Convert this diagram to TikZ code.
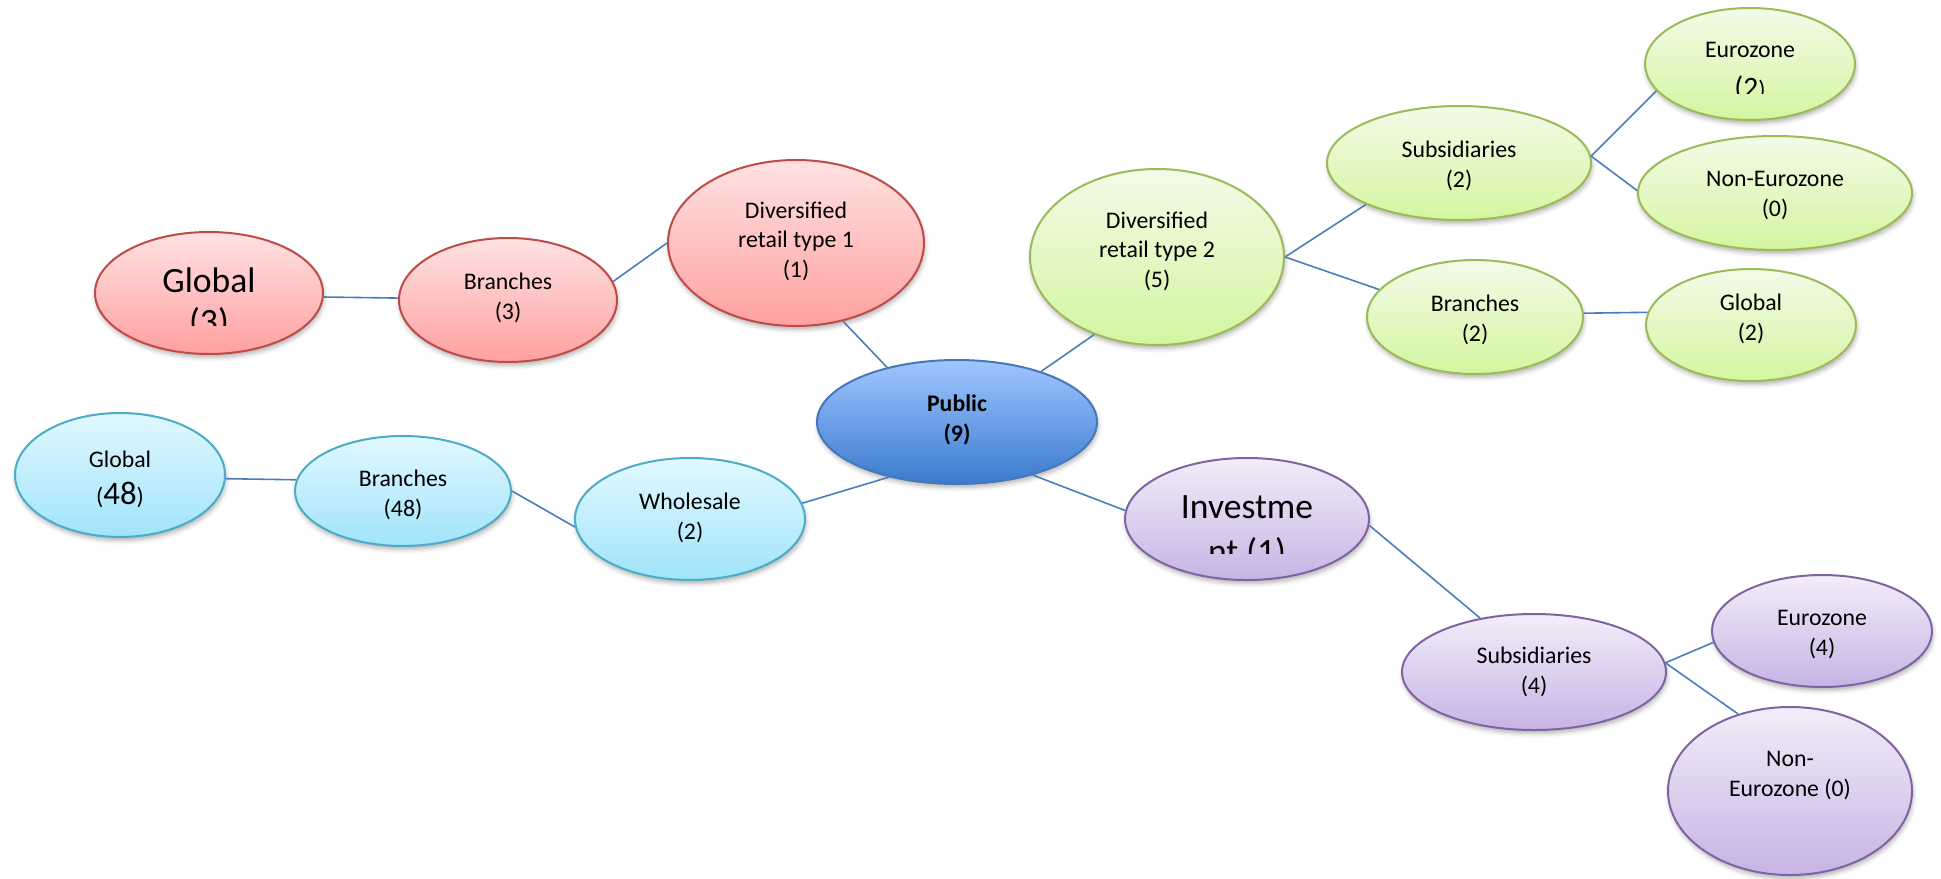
\documentclass[tikz,border=0pt]{standalone}
\usepackage{fontspec}
\setmainfont{Carlito}
\usetikzlibrary{shapes.geometric,shadows.blur}

% fill gradients and outlines of the five branches
\definecolor{redtop}{RGB}{255,226,226}
\definecolor{redbot}{RGB}{255,160,160}
\definecolor{rededge}{RGB}{190,75,72}
\definecolor{bluetop}{RGB}{160,198,255}
\definecolor{bluebot}{RGB}{58,122,205}
\definecolor{blueedge}{RGB}{70,120,185}
\definecolor{greentop}{RGB}{243,251,232}
\definecolor{greenbot}{RGB}{212,245,160}
\definecolor{greenedge}{RGB}{155,187,89}
\definecolor{purptop}{RGB}{243,237,249}
\definecolor{purpbot}{RGB}{198,180,228}
\definecolor{purpedge}{RGB}{128,100,162}
\definecolor{cyantop}{RGB}{226,248,255}
\definecolor{cyanbot}{RGB}{160,228,250}
\definecolor{cyanedge}{RGB}{75,172,198}
\definecolor{linkblue}{RGB}{74,126,187}

\begin{document}
\begin{tikzpicture}[
  x=0.5pt, y=-0.5pt,
  bubble/.style={ellipse, draw, line width=1pt, inner sep=0pt,
    blur shadow={shadow xshift=0.5pt, shadow yshift=-1.8pt,
                 shadow blur radius=2.2pt, shadow opacity=30}},
  sz/.style 2 args={minimum width=#1pt, minimum height=#2pt},
  redball/.style={bubble, draw=rededge, top color=redtop, bottom color=redbot},
  blueball/.style={bubble, draw=blueedge, top color=bluetop, bottom color=bluebot},
  greenball/.style={bubble, draw=greenedge, top color=greentop, bottom color=greenbot},
  purpball/.style={bubble, draw=purpedge, top color=purptop, bottom color=purpbot},
  cyanball/.style={bubble, draw=cyanedge, top color=cyantop, bottom color=cyanbot},
  % labels sit on the baseline of their last line
  txt/.style={anchor=base, align=center, inner sep=0pt,
    font=\fontsize{11.9pt}{14.6pt}\selectfont},
  bigtxt/.style={anchor=base, align=center, inner sep=0pt,
    font=\fontsize{17.8pt}{#1}\selectfont},
  link/.style={draw=linkblue, line width=0.8pt}
]
\useasboundingbox (0,0) rectangle (1941,878);

% ---- bubbles (centre in px, size = radii) ----
\node[redball, sz={114}{61}]    (rglobal)   at (209,293)  {};
\node[redball, sz={109}{62}]    (rbranch)   at (508,300)  {};
\node[redball, sz={128}{83}]    (div1)      at (796,243)  {};
\node[blueball, sz={140}{62}]   (public)    at (957,422)  {};
\node[greenball, sz={127}{88}]  (div2)      at (1157,257) {};
\node[greenball, sz={132}{57}]  (gsub)      at (1459,163) {};
\node[greenball, sz={105}{56}]  (geuro)     at (1750,64)  {};
\node[greenball, sz={137}{57}]  (gnoneuro)  at (1775,193) {};
\node[greenball, sz={108}{57}]  (gbranch)   at (1475,317) {};
\node[greenball, sz={105}{56}]  (gglobal)   at (1751,325) {};
\node[purpball, sz={122}{61}]   (invest)    at (1247,519) {};
\node[purpball, sz={132}{58}]   (psub)      at (1534,672) {};
\node[purpball, sz={110}{56}]   (peuro)     at (1822,631) {};
\node[purpball, sz={122}{84}]   (pnoneuro)  at (1790,791) {};
\node[cyanball, sz={105}{62}]   (cglobal)   at (120,475)  {};
\node[cyanball, sz={108}{55}]   (cbranch)   at (403,491)  {};
\node[cyanball, sz={115}{61}]   (wholesale) at (690,519)  {};

% ---- labels ----
\begin{scope}
  \clip (95,232) rectangle (323,325);
  \node[bigtxt=20.5pt] (rglobal-t) at (209,333) {Global\\(3)};
\end{scope}
\node[txt] (rbranch-t) at (508,319) {Branches\\(3)};
\node[txt] (div1-t) at (796,277) {Diversified\\retail type 1\\(1)};
\node[txt, font=\fontsize{11.9pt}{14.6pt}\selectfont\bfseries] (public-t) at (957,441) {Public\\(9)};
\node[txt] (div2-t) at (1157,287) {Diversified\\retail type 2\\(5)};
\node[txt] (gsub-t) at (1459,187) {Subsidiaries\\(2)};
\begin{scope}
  \clip (1645,8) rectangle (1856,93);
  \node[txt] (geuro-t) at (1750,97)
    {Eurozone\\[5pt]{\fontsize{14.8pt}{17pt}\selectfont (2})};
\end{scope}
\node[txt] (gnoneuro-t) at (1775,216) {Non-Eurozone\\(0)};
\node[txt] (gbranch-t) at (1475,341) {Branches\\(2)};
\node[txt] (gglobal-t) at (1751,340) {Global\\(2)};
\begin{scope}
  \clip (1125,458) rectangle (1369,553);
  \node[bigtxt=22.5pt] (invest-t) at (1247,563) {Investme\\nt (1)};
\end{scope}
\node[txt] (psub-t) at (1534,693) {Subsidiaries\\(4)};
\node[txt] (peuro-t) at (1822,655) {Eurozone\\(4)};
\node[txt] (pnoneuro-t) at (1790,796) {Non-\\Eurozone (0)};
\node[txt] (cglobal-t) at (120,504)
  {Global\\[3.9pt]({\fontsize{16.4pt}{19pt}\selectfont 48})};
\node[txt] (cbranch-t) at (403,516) {Branches\\(48)};
\node[txt] (wholesale-t) at (690,539) {Wholesale\\(2)};

% ---- connectors ----
\draw[link] (rglobal.-2.5) -- (rbranch.179);
\draw[link] (rbranch.10.7) -- (div1.180);
\draw[link] (div1.-59) -- (public.142.6);
\draw[link] (public.31.5) -- (div2.-129.4);
\draw[link] (div2.0) -- (gsub.204.8);
\draw[link] (div2.0) -- (gbranch.164.4);
\draw[link] (gsub.3.5) -- (geuro.196.4);
\draw[link] (gsub.3.5) -- (gnoneuro.179);
\draw[link] (gbranch.2) -- (gglobal.173.3);
\draw[link] (public.-35.9) -- (invest.176.7);
\draw[link] (invest.-3.75) -- (psub.135);
\draw[link] (psub.4.3) -- (peuro.186.2);
\draw[link] (psub.4.3) -- (pnoneuro.124.9);
\draw[link] (public.219.1) -- (wholesale.8.4);
\draw[link] (wholesale.184) -- (cbranch.0);
\draw[link] (cbranch.174) -- (cglobal.-2.7);
\end{tikzpicture}
\end{document}
